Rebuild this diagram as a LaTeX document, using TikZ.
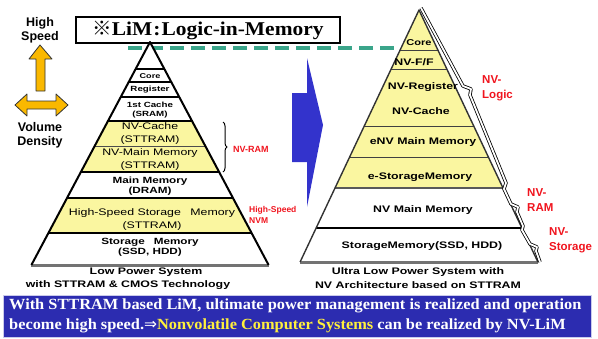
\documentclass[tikz,border=0pt]{standalone}
\usepackage{fontspec}
\setmainfont{Liberation Serif}
\newfontfamily\wsans[FakeStretch=1.3]{Liberation Sans}
\newfontfamily\lsans{Liberation Sans}
\newfontfamily\wserif[FakeStretch=1.1]{Liberation Serif}
\newfontfamily\bserif[FakeStretch=1.055]{Liberation Serif}
\newfontfamily\cjkf{Noto Sans CJK JP}
\newfontfamily\dvs{DejaVu Sans}
\usetikzlibrary{decorations.pathreplacing}
\definecolor{pyel}{RGB}{250,246,160}
\definecolor{tealg}{RGB}{58,165,138}
\definecolor{gold}{RGB}{250,184,0}
\definecolor{arrblue}{RGB}{51,51,204}
\definecolor{boxblue}{RGB}{44,44,176}
\definecolor{nvred}{RGB}{240,20,30}
\definecolor{nyel}{RGB}{255,240,60}
\begin{document}
\begin{tikzpicture}[x=1pt,y=-1pt,
  ptxt/.style={inner sep=0pt, align=center, font=\wsans\fontsize{9.5}{13}\selectfont},
  ptxtb/.style={inner sep=0pt, align=center, font=\wsans\bfseries\fontsize{9}{10.5}\selectfont},
  rtxt/.style={inner sep=0pt, align=center, font=\wsans\bfseries\fontsize{9.5}{11}\selectfont},
  redlbl/.style={inner sep=0pt, anchor=west, align=left, text=nvred, font=\lsans\bfseries\fontsize{11.5}{15}\selectfont},
  captxt/.style={inner sep=0pt, align=center, font=\wsans\bfseries\fontsize{9.5}{11}\selectfont},
  sidetxt/.style={inner sep=0pt, align=center, font=\lsans\bfseries\fontsize{12.5}{14}\selectfont},
  bigarrow/.style={fill=gold, draw=black!80, line width=0.8pt, line join=round},
  brc/.style={draw=black, line width=0.8pt, double=white, double distance=1.8pt, line join=round},
  bottxt/.style={inner sep=0pt, anchor=west, text=white, font=\bserif\bfseries\fontsize{15.5}{18}\selectfont}
]
\useasboundingbox (0,0) rectangle (598,338);

% ---------- left side labels and arrows ----------
\node[sidetxt] (hs) at (40,30) {High\\Speed};
\draw[bigarrow] (40,45) -- (52,59) -- (45,59) -- (45,91) -- (36,91) -- (36,59) -- (29,59) -- cycle;
\draw[bigarrow] (15,105) -- (27,94) -- (27,101) -- (56,101) -- (56,94) -- (68,105) -- (56,116) -- (56,109) -- (27,109) -- (27,116) -- cycle;
\node[sidetxt] (vd) at (40,135.5) {Volume\\Density};

% ---------- dashed teal line ----------
\coordinate (dA) at (128,48);
\coordinate (dB) at (398,48);
\draw[tealg, line width=4pt, dash pattern=on 14pt off 7pt] (dA) -- (dB);

% ---------- LiM box ----------
\node[draw=black, line width=1.6pt, fill=white, minimum width=264pt, minimum height=26pt, inner sep=0pt,
      font=\wserif\bfseries\fontsize{19.5}{20}\selectfont] (lim) at (208,30)
      {{\cjkf ※}LiM\kern1pt:\kern1pt Logic-in-Memory};

% ---------- left pyramid ----------
\fill[white] (150,42) -- (268.6,265) -- (31.4,265) -- cycle;
\fill[pyel] (106.9,121) -- (193.1,121) -- (219.2,172) -- (80.8,172) -- cycle;
\fill[pyel] (67,198) -- (233,198) -- (251.6,233) -- (48.4,233) -- cycle;
\draw[line width=1.5pt] (135.6,69) -- (164.4,69);
\draw[line width=1.5pt] (128.7,82) -- (171.3,82);
\draw[line width=1.5pt] (120.7,97) -- (179.3,97);
\draw[line width=2pt] (106.9,121) -- (193.1,121);
\draw[line width=0.8pt, black!70] (94.7,146) -- (205.3,146);
\draw[line width=2.6pt] (80.8,172) -- (219.2,172);
\draw[line width=2pt] (67,198) -- (233,198);
\draw[line width=1.5pt] (48.4,233) -- (251.6,233);
\draw[line width=3pt, black!55] (31.4,265) -- (268.6,265);
\draw[line width=2pt, line join=round] (31.4,265) -- (150,42) -- (268.6,265);

\node[ptxtb, font=\wsans\bfseries\fontsize{7}{8}\selectfont] (lcore) at (150,76) {Core};
\node[ptxtb, font=\wsans\bfseries\fontsize{7.5}{8}\selectfont] (lreg) at (150,90) {Register};
\node[ptxtb, font=\wsans\bfseries\fontsize{7.5}{9}\selectfont] (lc1) at (150,110) {1st Cache\\(SRAM)};
\node[ptxt] (lnvc) at (150,134) {NV-Cache\\(STTRAM)};
\node[ptxt] (lnvm) at (150,159.5) {NV-Main Memory\\(STTRAM)};
\node[ptxtb] (lmm) at (150,186) {Main Memory\\(DRAM)};
\node[ptxt] (lhs) at (152,219.5) {High-Speed Storage\quad Memory\\(STTRAM)};
\node[ptxtb] (lst) at (150,247.5) {Storage\quad Memory\\(SSD, HDD)};

\draw[line width=1pt, decorate, decoration={brace, amplitude=4pt}] (223,122) -- (223,172);
\node[redlbl, font=\lsans\bfseries\fontsize{9}{11}\selectfont] (nvram1) at (233,149) {NV-RAM};
\node[redlbl, font=\lsans\bfseries\fontsize{8.5}{10.5}\selectfont] (hsnvm) at (249,215) {High-Speed\\NVM};

\node[captxt] (lcap1) at (146,272) {Low Power System};
\node[captxt] (lcap2) at (128,285) {with STTRAM \& CMOS Technology};

% ---------- blue arrow ----------
\fill[arrblue] (292,93) -- (307,93) -- (307,58) -- (323,125) -- (307,207) -- (307,162) -- (292,162) -- cycle;

% ---------- right pyramid ----------
\fill[pyel] (419,10) -- (503,188) -- (335,188) -- cycle;
\fill[white] (335,188) -- (503,188) -- (537.9,262) -- (300.1,262) -- cycle;
\draw[line width=0.8pt, black!75] (400.1,50) -- (437.9,50);
\draw[line width=0.8pt, black!75] (391.2,69) -- (446.8,69);
\draw[line width=0.8pt, black!75] (364.2,126) -- (473.8,126);
\draw[line width=0.8pt, black!75] (349.6,157) -- (488.4,157);
\draw[line width=2.6pt, black!65] (335,188) -- (503,188);
\draw[line width=2.6pt] (316.1,228) -- (521.9,228);
\draw[line width=3pt, black!55] (300.1,262) -- (537.9,262);
\draw[line width=1.4pt, black!80, line join=round] (300.1,262) -- (419,10) -- (537.9,262);

\node[rtxt, font=\wsans\bfseries\fontsize{8.5}{10}\selectfont] (rcore) at (419,43) {Core};
\node[rtxt] (rff) at (414,62) {NV-F/F};
\node[rtxt] (rreg) at (423,87) {NV-Register};
\node[rtxt] (rcache) at (421,111) {NV-Cache};
\node[rtxt] (renv) at (423,142) {eNV Main Memory};
\node[rtxt] (restor) at (420,177) {e-StorageMemory};
\node[rtxt] (rnvm) at (423,210) {NV Main Memory};
\node[rtxt] (rstor) at (422,246) {StorageMemory(SSD, HDD)};

\draw[brc] (421,8) -- (463,86) -- (471,89) -- (470,95) -- (506,183) -- (504,189)
  -- (511,204) -- (518,207) -- (517,212) -- (523,226) -- (522,230)
  -- (530,244) -- (537,247) -- (536,251) -- (540,262);

\node[redlbl] (nvlogic) at (482,88) {NV-\\Logic};
\node[redlbl] (nvram2) at (527,200) {NV-\\RAM};
\node[redlbl] (nvstor) at (549,240) {NV-\\Storage};

\node[captxt] (rcap1) at (418,272) {Ultra Low Power System with};
\node[captxt] (rcap2) at (418,285) {NV Architecture based on STTRAM};

% ---------- bottom box ----------
\node[draw=white!75!boxblue, line width=1pt, fill=boxblue, minimum width=588pt, minimum height=42pt, inner sep=0pt] (bbox) at (297,316) {};
\node[bottxt] (bl1) at (9,306) {With STTRAM based LiM, ultimate power management is realized and operation};
\node[bottxt] (bl2) at (9,326) {become high speed.{\dvs\mdseries ⇒}\textcolor{nyel}{Nonvolatile Computer Systems} can be realized by NV-LiM};
\end{tikzpicture}
\end{document}
